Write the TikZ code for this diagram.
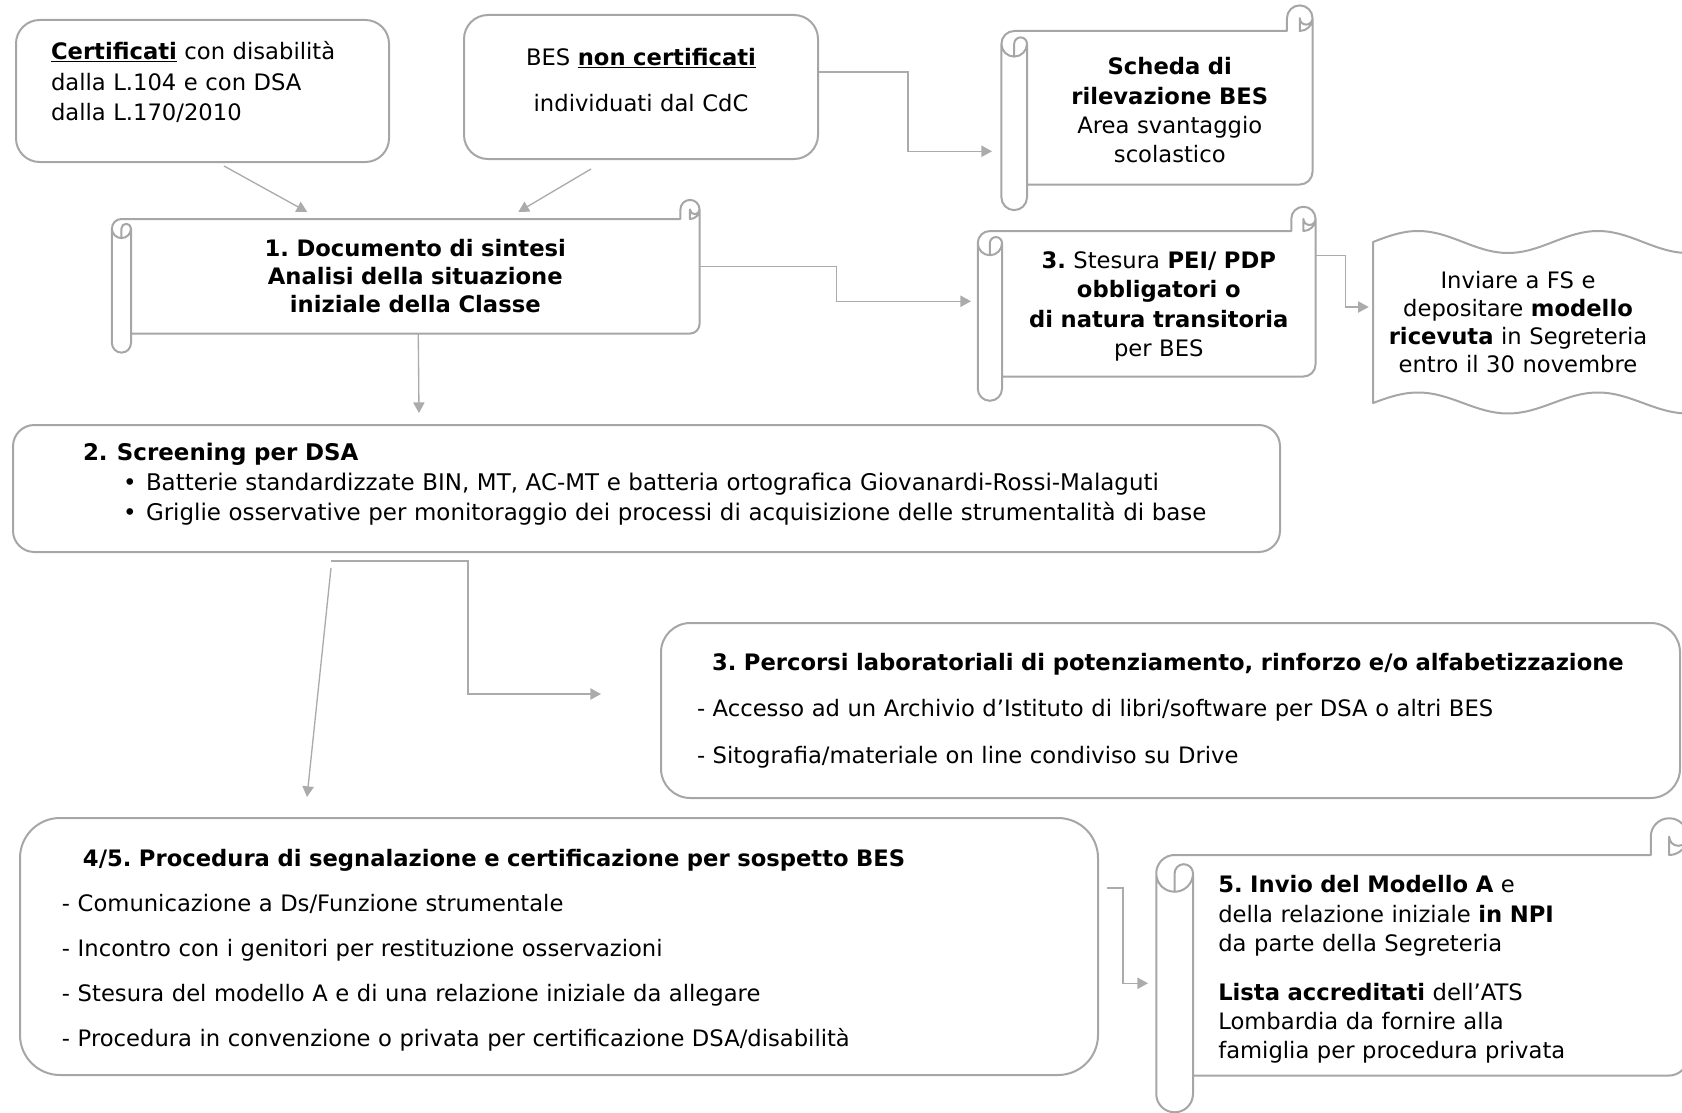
\documentclass[tikz,border=0pt]{standalone}
\usepackage{fontspec}
\setmainfont{DejaVu Sans}
\usetikzlibrary{arrows.meta,calc}
\frenchspacing

\definecolor{bordo}{HTML}{A6A6A6}
\definecolor{grigiofreccia}{HTML}{ADAAAA}

\tikzset{
  testo/.style={font=\fontsize{17}{22}\selectfont},
  riquadro/.style={testo, draw=bordo, line width=1.5pt, inner sep=0pt, align=left},
  rotolo/.style={testo, inner sep=0pt, align=center},
  freccia/.style={draw=grigiofreccia, line width=1pt, -{Triangle[length=8pt,width=8.5pt]}}
}

% pergamena orizzontale intorno al nodo #1 (il nodo e' il corpo del rotolo)
\newcommand{\pergamena}[1]{%
  \draw[bordo, line width=1.5pt, line join=round]
    let \p1=(#1.north west), \p2=(#1.south east), \n1={(\y1-\y2)/6} in
    (\x1-\n1*1pt, \y1-\n1*0.5pt) arc[start angle=180, end angle=90, radius=\n1*0.5pt]
    -- (\x2-\n1*1pt, \y1) -- (\x2-\n1*1pt, \y1+\n1*0.5pt)
    arc[start angle=180, end angle=0, radius=\n1*0.5pt]
    -- (\x2, \y2+\n1*0.5pt)
    arc[start angle=0, end angle=-90, radius=\n1*0.5pt]
    -- (\x1, \y2) -- (\x1, \y2-\n1*0.5pt)
    arc[start angle=0, end angle=-180, radius=\n1*0.5pt]
    -- cycle
    (\x2-\n1*0.5pt, \y1) arc[start angle=-90, end angle=0, radius=\n1*0.5pt]
    arc[start angle=0, end angle=-180, radius=\n1*0.25pt] -- cycle
    (\x1-\n1*0.5pt, \y1-\n1*1pt) -- (\x1-\n1*0.5pt, \y1-\n1*0.5pt)
    arc[start angle=180, end angle=0, radius=\n1*0.25pt]
    arc[start angle=0, end angle=-180, radius=\n1*0.5pt]
    (\x1, \y1-\n1*0.5pt) -- (\x1, \y2);
}

\begin{document}
\begin{tikzpicture}[x=0.75pt, y=-0.75pt]
\useasboundingbox (0,0) rectangle (1682,1113);
\clip (0,0) rectangle (1682,1113);

% Nodi
\node[riquadro, anchor=north west, text width=227.25pt, inner xsep=26.25pt, text height=29.6pt, text depth=76.9pt,
      rounded corners=17.75pt, font=\fontsize{17}{23}\selectfont] (certificati) at (15,19)
  {\underline{\textbf{Certificati}} con disabilità\\ dalla L.104 e con DSA\\ dalla L.170/2010};

\node[riquadro, align=center, anchor=north west, text width=265.5pt, text height=37.6pt, text depth=70.4pt,
      rounded corners=18pt] (bes) at (463,14)
  {BES \underline{\textbf{non certificati}}\\[13pt] individuati dal CdC};

\node[rotolo, anchor=north west, text width=426pt, minimum height=85.5pt,
      font=\fontsize{17}{21}\selectfont\bfseries] (documento) at (131,219)
  {1. Documento di sintesi\\ Analisi della situazione\\ iniziale della Classe};
\pergamena{documento}

\node[rotolo, anchor=north west, text width=213.75pt, text height=32.7pt, text depth=82.05pt] (scheda) at (1027,31)
  {\textbf{Scheda di}\\ \textbf{rilevazione BES}\\ Area svantaggio\\ scolastico};
\pergamena{scheda}

\node[rotolo, anchor=north west, text width=234.75pt, text height=27.8pt, text depth=80.95pt] (stesura) at (1002,231)
  {\textbf{3.} Stesura \textbf{PEI/ PDP}\\ \textbf{obbligatori o}\\ \textbf{di natura transitoria}\\ per BES};
\pergamena{stesura}

% nastro ondulato
\draw[bordo, line width=1.5pt, line join=round]
  plot[domain=1373:1700, samples=90] (\x, {242-11*sin(2*(\x-1373))})
  -- plot[domain=1700:1373, samples=90] (\x, {403-10.5*sin(2*(\x-1373))}) -- cycle;
\node[rotolo, text width=217.5pt, minimum height=120.75pt, font=\fontsize{17}{21}\selectfont] (inviare) at (1518,322.5)
  {Inviare a FS e\\ depositare \textbf{modello}\\ \textbf{ricevuta} in Segreteria\\ entro il 30 novembre};

\node[riquadro, anchor=north west, text width=950.25pt, text height=26.3pt, text depth=68.95pt, rounded corners=16pt,
      font=\fontsize{17.2}{22.5}\selectfont] (screening) at (12,424)
  {\hspace*{52.5pt}\textbf{2.\hspace{7pt}Screening per DSA}\\
   \hspace*{82.5pt}\makebox[17.25pt][l]{\textbullet}\mbox{Batterie standardizzate BIN, MT, AC-MT e batteria ortografica Giovanardi-Rossi-Malaguti}\\
   \hspace*{82.5pt}\makebox[17.25pt][l]{\textbullet}\mbox{Griglie osservative per monitoraggio dei processi di acquisizione delle strumentalità di base}};

\node[riquadro, anchor=north west, text width=764.25pt, minimum height=131.25pt, rounded corners=22pt] (percorsi) at (660,622)
  {\hspace*{38.25pt}\mbox{\textbf{3. Percorsi laboratoriali di potenziamento, rinforzo e/o alfabetizzazione}}\\[13pt]
   \hspace*{27pt}\mbox{- Accesso ad un Archivio d’Istituto di libri/software per DSA o altri BES}\\[13pt]
   \hspace*{27pt}\mbox{- Sitografia/materiale on line condiviso su Drive}};

\node[riquadro, anchor=north west, text width=808.5pt, text height=36.5pt, text depth=156.25pt, rounded corners=30pt] (procedura) at (19,817)
  {\hspace*{47.25pt}\mbox{\textbf{4/5. Procedura di segnalazione e certificazione per sospetto BES}}\\[11.75pt]
   \hspace*{31.5pt}\mbox{- Comunicazione a Ds/Funzione strumentale}\\[11.75pt]
   \hspace*{31.5pt}\mbox{- Incontro con i genitori per restituzione osservazioni}\\[11.75pt]
   \hspace*{31.5pt}\mbox{- Stesura del modello A e di una relazione iniziale da allegare}\\[11.75pt]
   \hspace*{31.5pt}\mbox{- Procedura in convenzione o privata per certificazione DSA/disabilità}};

\node[rotolo, align=left, anchor=north west, text width=333pt, inner xsep=18.75pt, text height=28.25pt, text depth=136.75pt] (invio) at (1193,855)
  {\textbf{5. Invio del Modello A} e\\ della relazione iniziale \textbf{in NPI}\\ da parte della Segreteria\\[14.5pt]
   \textbf{Lista accreditati} dell’ATS\\ Lombardia da fornire alla\\ famiglia per procedura privata};
\pergamena{invio}

\coordinate (bivio) at ($(screening.south)+(-315.5,8)$);

% Frecce
\draw[freccia] ($(certificati.south)+(21.5,3)$) -- ($(documento.north)+(-108,-7)$);
\draw[freccia] ($(bes.south)+(-50,9)$) -- ($(documento.north)+(103,-7)$);
\draw[freccia] ($(bes.east)+(0,-15)$) -- ++(89,0) |- ($(scheda.west)+(-35,43.5)$);
\draw[freccia] ($(documento.east)+(0,-10)$) -- ++(137,0) |- ($(stesura.west)+(-31,-2.5)$);
\draw[freccia] ($(stesura.east)+(0,-48.5)$) -- ++(30,0) |- ($(inviare.west)+(-4,-15.5)$);
\draw[freccia] ($(documento.south)+(3,0)$) -- ($(screening.north)+(-227.5,-11)$);
\draw[freccia] (bivio) -- ++(137,0) |- ($(percorsi.west)+(-59,-16.5)$);
\draw[freccia] ($(bivio)+(0,7)$) -- ($(procedura.north)+(-252,-20)$);
\draw[freccia] ($(procedura.east)+(8,-58.5)$) -- ++(16,0) |- ($(invio.west)+(-45,18)$);
\end{tikzpicture}
\end{document}
